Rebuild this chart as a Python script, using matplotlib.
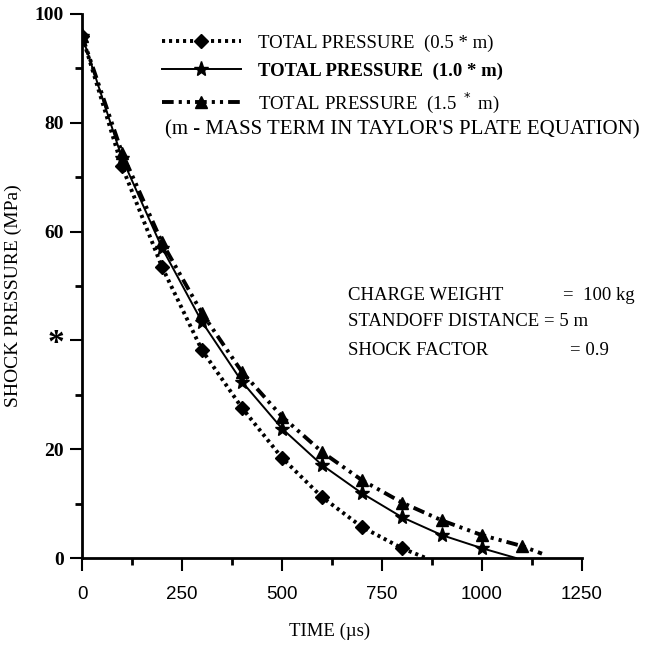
import matplotlib
matplotlib.use("Agg")
import matplotlib.pyplot as plt
from matplotlib.ticker import MultipleLocator

plt.rcParams['font.family'] = ['Liberation Serif', 'DejaVu Serif']

# time (us) and total pressure (MPa); last point of each series is the line end (no marker)
t_half = [0, 100, 200, 300, 400, 500, 600, 700, 800, 860]
p_half = [96, 72, 53.5, 38.2, 27.6, 18.4, 11.2, 5.7, 1.8, 0]

t_one = [0, 100, 200, 300, 400, 500, 600, 700, 800, 900, 1000, 1085]
p_one = [96, 73.5, 57, 43.4, 32.4, 23.8, 17.1, 11.9, 7.5, 4.2, 1.8, 0]

t_onehalf = [0, 100, 200, 300, 400, 500, 600, 700, 800, 900, 1000, 1100, 1150]
p_onehalf = [96, 74.5, 58, 45, 34.2, 26, 19.5, 14.3, 10.2, 6.9, 4.2, 2.2, 0.8]

labels = ["TOTAL PRESSURE  (0.5 * m)", "TOTAL PRESSURE  (1.0 * m)",
          "TOTAL PRESSURE  (1.5 $^*$ m)"]

x_ticks = [0, 250, 500, 750, 1000, 1250]
y_ticks = [0, 20, 40, 60, 80, 100]
y_ticklabels = ["0", "20", "*", "60", "80", "100"]

fig = plt.figure(figsize=(6.54, 6.5), dpi=100)
ax = fig.add_axes([0.1254, 0.1415, 0.7645, 0.837])

ax.plot(t_half, p_half, color='black', lw=2.8, linestyle=(0, (0.8, 1.0)),
        marker='D', ms=7, markevery=list(range(len(t_half) - 1)), label=labels[0])
ax.plot(t_one, p_one, color='black', lw=1.4, linestyle='-',
        marker='*', ms=11, markevery=list(range(len(t_one) - 1)), label=labels[1])
ax.plot(t_onehalf, p_onehalf, color='black', lw=2.8,
        linestyle=(0, (3, 1.3, 0.8, 1.3, 0.8, 1.3)),
        marker='^', ms=8, markevery=list(range(len(t_onehalf) - 1)), label=labels[2])

ax.set_xlim(0, 1250)
ax.set_ylim(0, 100)
ax.spines['top'].set_visible(False)
ax.spines['right'].set_visible(False)
ax.spines['left'].set_linewidth(2)
ax.spines['bottom'].set_linewidth(2)

ax.set_xticks(x_ticks)
ax.set_yticks(y_ticks)
ax.set_yticklabels(y_ticklabels)
ax.xaxis.set_minor_locator(MultipleLocator(125))
ax.yaxis.set_minor_locator(MultipleLocator(10))
ax.tick_params(axis='both', which='major', direction='out', length=9, width=1.5, color='black')
ax.tick_params(axis='both', which='minor', direction='out', length=5, width=2)
ax.tick_params(axis='x', which='major', labelsize=13.5, pad=11)
ax.tick_params(axis='y', which='major', labelsize=14, pad=4)
for lab in ax.get_xticklabels():
    lab.set_family('Liberation Sans')
for lab in ax.get_yticklabels():
    lab.set_fontweight('bold')
ax.get_yticklabels()[2].set_fontsize(24)

ax.set_xlabel("TIME (\u00b5s)", fontsize=13.5)
ax.xaxis.set_label_coords(0.496, -0.118)
ax.set_ylabel("SHOCK PRESSURE (MPa)", fontsize=14)
ax.yaxis.set_label_coords(-0.12, 0.483)

leg = ax.legend(loc='upper left', bbox_to_anchor=(0.16, 0.962), frameon=False, fontsize=13.5,
                handlelength=4.2, handletextpad=0.9, labelspacing=0.55,
                borderaxespad=0, borderpad=0)
leg.get_texts()[1].set_fontweight('bold')
ax.text(0.166, 0.787, "(m - MASS TERM IN TAYLOR'S PLATE EQUATION)", transform=ax.transAxes,
        fontsize=15, va='center', ha='left')

ax.text(0.532, 0.483, "CHARGE WEIGHT", transform=ax.transAxes, fontsize=13.5, va='center')
ax.text(0.962, 0.483, "=  100 kg", transform=ax.transAxes, fontsize=13.5, va='center')
ax.text(0.532, 0.434, "STANDOFF DISTANCE = 5 m", transform=ax.transAxes, fontsize=13.5, va='center')
ax.text(0.532, 0.382, "SHOCK FACTOR", transform=ax.transAxes, fontsize=13.5, va='center')
ax.text(0.976, 0.382, "= 0.9", transform=ax.transAxes, fontsize=13.5, va='center')

fig.savefig("out.png", dpi=100)
